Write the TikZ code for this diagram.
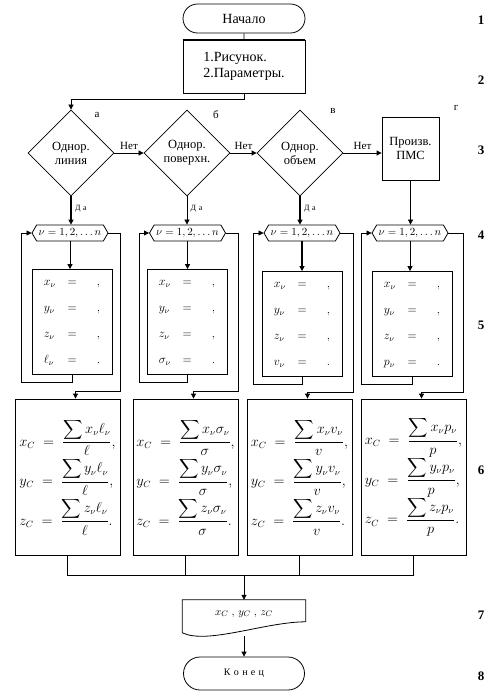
\documentclass[tikz,border=0pt]{standalone}
\usepackage{amsmath,amssymb}
\usepackage{fontspec}
\setmainfont{Liberation Serif}
\usepackage{tikz}
\usetikzlibrary{arrows.meta,shapes.geometric,shapes.symbols,shapes.misc}
\tikzset{
  base/.style={draw=black, line width=0.8pt},
  term/.style={base, rounded rectangle, minimum width=122pt, minimum height=29pt, inner sep=0pt, font=\fontsize{14}{16}\selectfont},
  proc/.style={base, rectangle, inner sep=0pt, font=\fontsize{14}{16}\selectfont},
  dec/.style={base, diamond, minimum width=86pt, minimum height=86pt, inner sep=0pt, align=center, font=\fontsize{12.5}{14}\selectfont},
  cyc/.style={base, signal, signal to=east and west, signal pointer angle=120, minimum width=76pt, minimum height=16pt, inner sep=0pt, font=\fontsize{11}{12}\selectfont},
  inbox/.style={base, rectangle, minimum width=80pt, minimum height=105pt, inner sep=0pt, font=\fontsize{12}{14}\selectfont},
  formbox/.style={base, rectangle, minimum width=105pt, minimum height=156pt, inner sep=0pt, font=\fontsize{13.5}{15}\selectfont},
  arr/.style={base, -{Triangle[length=5pt,width=5pt]}},
  lab/.style={font=\fontsize{11}{12}\selectfont},
  labs/.style={font=\fontsize{8}{9}\selectfont},
  num/.style={font=\bfseries\fontsize{13}{14}\selectfont},
}

\begin{document}
\begin{tikzpicture}[x=1pt,y=-1pt]
  \fill[white] (0,0) rectangle (499,700);
  \useasboundingbox (0,0) rectangle (499,700);
  % start and input
  \node[term] (start) at (244,18.5) {Начало};
  \node[proc, minimum width=122pt, minimum height=53pt, align=left] (params) at (244,66.5) {1.Рисунок.\\2.Параметры.};
  \draw[line width=1.6pt] (params.north west) -- (params.north east);
  % decisions
  \node[dec] (da) at (71,153) {Однор.\\линия};
  \node[dec] (db) at (187,153) {Однор.\\поверхн.};
  \node[dec] (dc) at (300,153) {Однор.\\объем};
  \node[proc, minimum width=57pt, minimum height=63pt, align=center, font=\fontsize{12.5}{14}\selectfont] (pmc) at (410.5,148.5) {Произв.\\ПМС};
  \node[lab] at (97,115) {а};
  \node[lab] at (216,115) {б};
  \node[lab] at (333,111) {в};
  \node[lab] at (456,108) {г};
  % loops
  \node[cyc] (ca) at (70,233) {$\nu=1,2,\ldots n$};
  \node[cyc] (cb) at (187.5,233) {$\nu=1,2,\ldots n$};
  \node[cyc] (cc) at (302,233) {$\nu=1,2,\ldots n$};
  \node[cyc] (cd) at (410,233) {$\nu=1,2,\ldots n$};
  \node[inbox] (ia) at (72,322) {$\begin{array}{@{}l@{\hspace{12pt}}c@{\hspace{20pt}}c@{}}
    x_\nu & = & ,\\[12pt] y_\nu & = & ,\\[12pt] z_\nu & = & ,\\[12pt] \ell_\nu & = & .\end{array}$};
  \node[inbox] (ib) at (187,322) {$\begin{array}{@{}l@{\hspace{12pt}}c@{\hspace{20pt}}c@{}}
    x_\nu & = & ,\\[12pt] y_\nu & = & ,\\[12pt] z_\nu & = & ,\\[12pt] \sigma_\nu & = & .\end{array}$};
  \node[inbox] (ic) at (302,324) {$\begin{array}{@{}l@{\hspace{12pt}}c@{\hspace{20pt}}c@{}}
    x_\nu & = & ,\\[12pt] y_\nu & = & ,\\[12pt] z_\nu & = & ,\\[12pt] v_\nu & = & .\end{array}$};
  \node[inbox] (id) at (412,324) {$\begin{array}{@{}l@{\hspace{12pt}}c@{\hspace{20pt}}c@{}}
    x_\nu & = & ,\\[12pt] y_\nu & = & ,\\[12pt] z_\nu & = & ,\\[12pt] p_\nu & = & .\end{array}$};
  % centre formulas
  \node[formbox] (fa) at (67.5,477) {$\begin{array}{@{}l@{}}
    x_C\;=\;\dfrac{\displaystyle\sum x_\nu\ell_\nu}{\ell},\\[8pt]
    y_C\;=\;\dfrac{\displaystyle\sum y_\nu\ell_\nu}{\ell},\\[8pt]
    z_C\;=\;\dfrac{\displaystyle\sum z_\nu\ell_\nu}{\ell}.\end{array}$};
  \node[formbox] (fb) at (185.5,477) {$\begin{array}{@{}l@{}}
    x_C\;=\;\dfrac{\displaystyle\sum x_\nu\sigma_\nu}{\sigma},\\[8pt]
    y_C\;=\;\dfrac{\displaystyle\sum y_\nu\sigma_\nu}{\sigma},\\[8pt]
    z_C\;=\;\dfrac{\displaystyle\sum z_\nu\sigma_\nu}{\sigma}.\end{array}$};
  \node[formbox] (fc) at (299.5,477) {$\begin{array}{@{}l@{}}
    x_C\;=\;\dfrac{\displaystyle\sum x_\nu v_\nu}{v},\\[8pt]
    y_C\;=\;\dfrac{\displaystyle\sum y_\nu v_\nu}{v},\\[8pt]
    z_C\;=\;\dfrac{\displaystyle\sum z_\nu v_\nu}{v}.\end{array}$};
  \node[formbox] (fd) at (413.5,477) {$\begin{array}{@{}l@{}}
    x_C\;=\;\dfrac{\displaystyle\sum x_\nu p_\nu}{p},\\[8pt]
    y_C\;=\;\dfrac{\displaystyle\sum y_\nu p_\nu}{p},\\[8pt]
    z_C\;=\;\dfrac{\displaystyle\sum z_\nu p_\nu}{p}.\end{array}$};
  % output and end
  \node[inner sep=0pt, minimum width=123pt, minimum height=28pt, font=\fontsize{11}{12}\selectfont] (out) at (244,614) {$x_C\;,\,y_C\;,\,z_C$};
  \draw[base] ([yshift=-22pt]out.north east) -- (out.north east) -- (out.north west) -- ([yshift=-33pt]out.north west)
    .. controls +(25,12) and +(-40,0) .. ([yshift=-22pt]out.north east);
  \node[term, minimum width=121pt, minimum height=33pt, font=\fontsize{10}{12}\selectfont] (fin) at (244,673.5) {К\,\,о\,\,н\,\,е\,\,ц};
  % row numbers
  \node[num] at (481,20) {1};
  \node[num] at (481,80) {2};
  \node[num] at (481,150) {3};
  \node[num] at (481,235) {4};
  \node[num] at (481,325) {5};
  \node[num] at (481,470) {6};
  \node[num] at (481,615) {7};
  \node[num] at (481,676) {8};
  % connectors
  \coordinate (ea) at (120,391);
  \coordinate (eb) at (238,391);
  \coordinate (ec) at (353,392);
  \coordinate (ed) at (463,392);
  \coordinate (mrg) at (244,575);
  \draw[base] (start) -- (params);
  \draw[arr] (params.south) -- ++(0,6) -| (da.north);
  \draw[arr] (da) -- node[lab,above]{Нет} (db);
  \draw[arr] (db) -- node[lab,above]{Нет} (dc);
  \draw[arr] (dc.east) -- node[lab,above]{Нет} (dc.east -| pmc.west);
  \draw[arr, line width=1.4pt] (da.south) -- node[labs,right,pos=0.45]{Д\,\,а} (da.south |- ca.north);
  \draw[arr] (db.south) -- node[labs,right,pos=0.45]{Д\,\,а} (db.south |- cb.north);
  \draw[arr, line width=1.4pt] (dc.south) -- node[labs,right,pos=0.45]{Д\,\,а} (dc.south |- cc.north);
  \draw[arr] (pmc.south) -- (pmc.south |- cd.north);
  \draw[arr] (ca.south) -- (ca.south |- ia.north);
  \draw[arr] (cb.south) -- (cb.south |- ib.north);
  \draw[arr, line width=1.4pt] (cc.south) -- (cc.south |- ic.north);
  \draw[arr] (cd.south) -- (cd.south |- id.north);
  \draw[arr] (ia.south) -- ++(0,7) -| ([xshift=-10pt]ca.west) -- (ca.west);
  \draw[arr] (ib.south) -- ++(0,7) -| ([xshift=-10pt]cb.west) -- (cb.west);
  \draw[arr] (ic.south) -- ++(0,7) -| ([xshift=-10pt]cc.west) -- (cc.west);
  \draw[arr] (id.south) -- ++(0,7) -| ([xshift=-10pt]cd.west) -- (cd.west);
  \draw[arr] (ca.east) -| (ea) -| ([xshift=8pt]fa.north);
  \draw[arr] (cb.east) -| (eb) -| ([xshift=8pt]fb.north);
  \draw[arr] (cc.east) -| (ec) -| ([xshift=8pt]fc.north);
  \draw[arr] (cd.east) -| (ed) -| ([xshift=8pt]fd.north);
  \draw[base] (fa.south) -- ++(0,20) -| (fd.south);
  \draw[base] (fb.south) -- ++(0,20);
  \draw[base] (fc.south) -- ++(0,20);
  \draw[arr] (mrg) -- (out.north);
  \draw[arr] ([yshift=-36pt]out.north) -- (fin.north);
\end{tikzpicture}
\end{document}
